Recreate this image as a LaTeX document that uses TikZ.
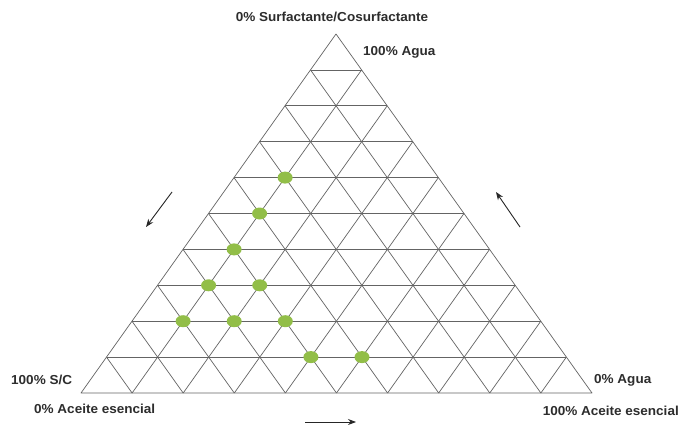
\documentclass[tikz,border=0pt]{standalone}
\usepackage{fontspec}
\newfontfamily\labfont{Liberation Sans Bold}[FakeStretch=1.04]
\usetikzlibrary{calc,arrows.meta,shapes.geometric}
\definecolor{gridgray}{RGB}{100,100,100}
\definecolor{dotgreen}{RGB}{146,190,72}
\definecolor{txtgray}{RGB}{45,45,45}
\tikzset{
  gridline/.style={draw=gridgray,line width=0.7pt},
  lab/.style={font=\labfont\fontsize{13}{15}\selectfont,text=txtgray,inner sep=0pt},
  dotmark/.style={ellipse,fill=dotgreen,draw=none,minimum width=15pt,minimum height=12pt,inner sep=0pt},
  dirarrow/.style={draw=black!85,line width=0.9pt,-{Stealth[length=8pt,width=6pt]}}
}
\begin{document}
\begin{tikzpicture}[x=1pt,y=-1pt]
\useasboundingbox (0,0) rectangle (683,425);
\fill[white] (0,0) rectangle (683,425);
\coordinate (A) at (336,34);
\coordinate (L) at (81,393);
\coordinate (R) at (592,393);
% grid
\foreach \t in {0.1,0.2,...,0.95}{
  \draw[gridline] ($(A)!\t!(L)$) -- ($(A)!\t!(R)$);
  \draw[gridline] ($(L)!\t!(R)$) -- ($(A)!\t!(R)$);
  \draw[gridline] ($(L)!\t!(R)$) -- ($(L)!\t!(A)$);
}
\draw[gridline,line join=round] (A) -- (L) -- (R) -- cycle;
% points
\foreach \r/\k [count=\n] in {4/1,5/1,6/1,7/1,7/2,8/1,8/2,8/3,9/4,9/5}{
  \node[dotmark] (d\n) at ($(A)!\r/10!(L)+(51.1*\k,0)$) {};
}
% labels
\node[lab,anchor=base] (top) at (332,22) {0\% Surfactante/Cosurfactante};
\node[lab,anchor=base west] (agua100) at (363,56) {100\% Agua};
\node[lab,anchor=base west] (sc100) at (11,384) {100\% S/C};
\node[lab,anchor=base west] (ace0) at (34,413) {0\% Aceite esencial};
\node[lab,anchor=base west] (agua0) at (594,383) {0\% Agua};
\node[lab,anchor=base east] (ace100) at (679,415) {100\% Aceite esencial};
% arrows
\coordinate (la1) at (172,192); \coordinate (la2) at (146,227);
\coordinate (ra1) at (520,227); \coordinate (ra2) at (496,192);
\coordinate (ba1) at (305,422); \coordinate (ba2) at (356,422);
\draw[dirarrow] (la1) -- (la2);
\draw[dirarrow] (ra1) -- (ra2);
\draw[dirarrow] (ba1) -- (ba2);
\end{tikzpicture}
\end{document}
